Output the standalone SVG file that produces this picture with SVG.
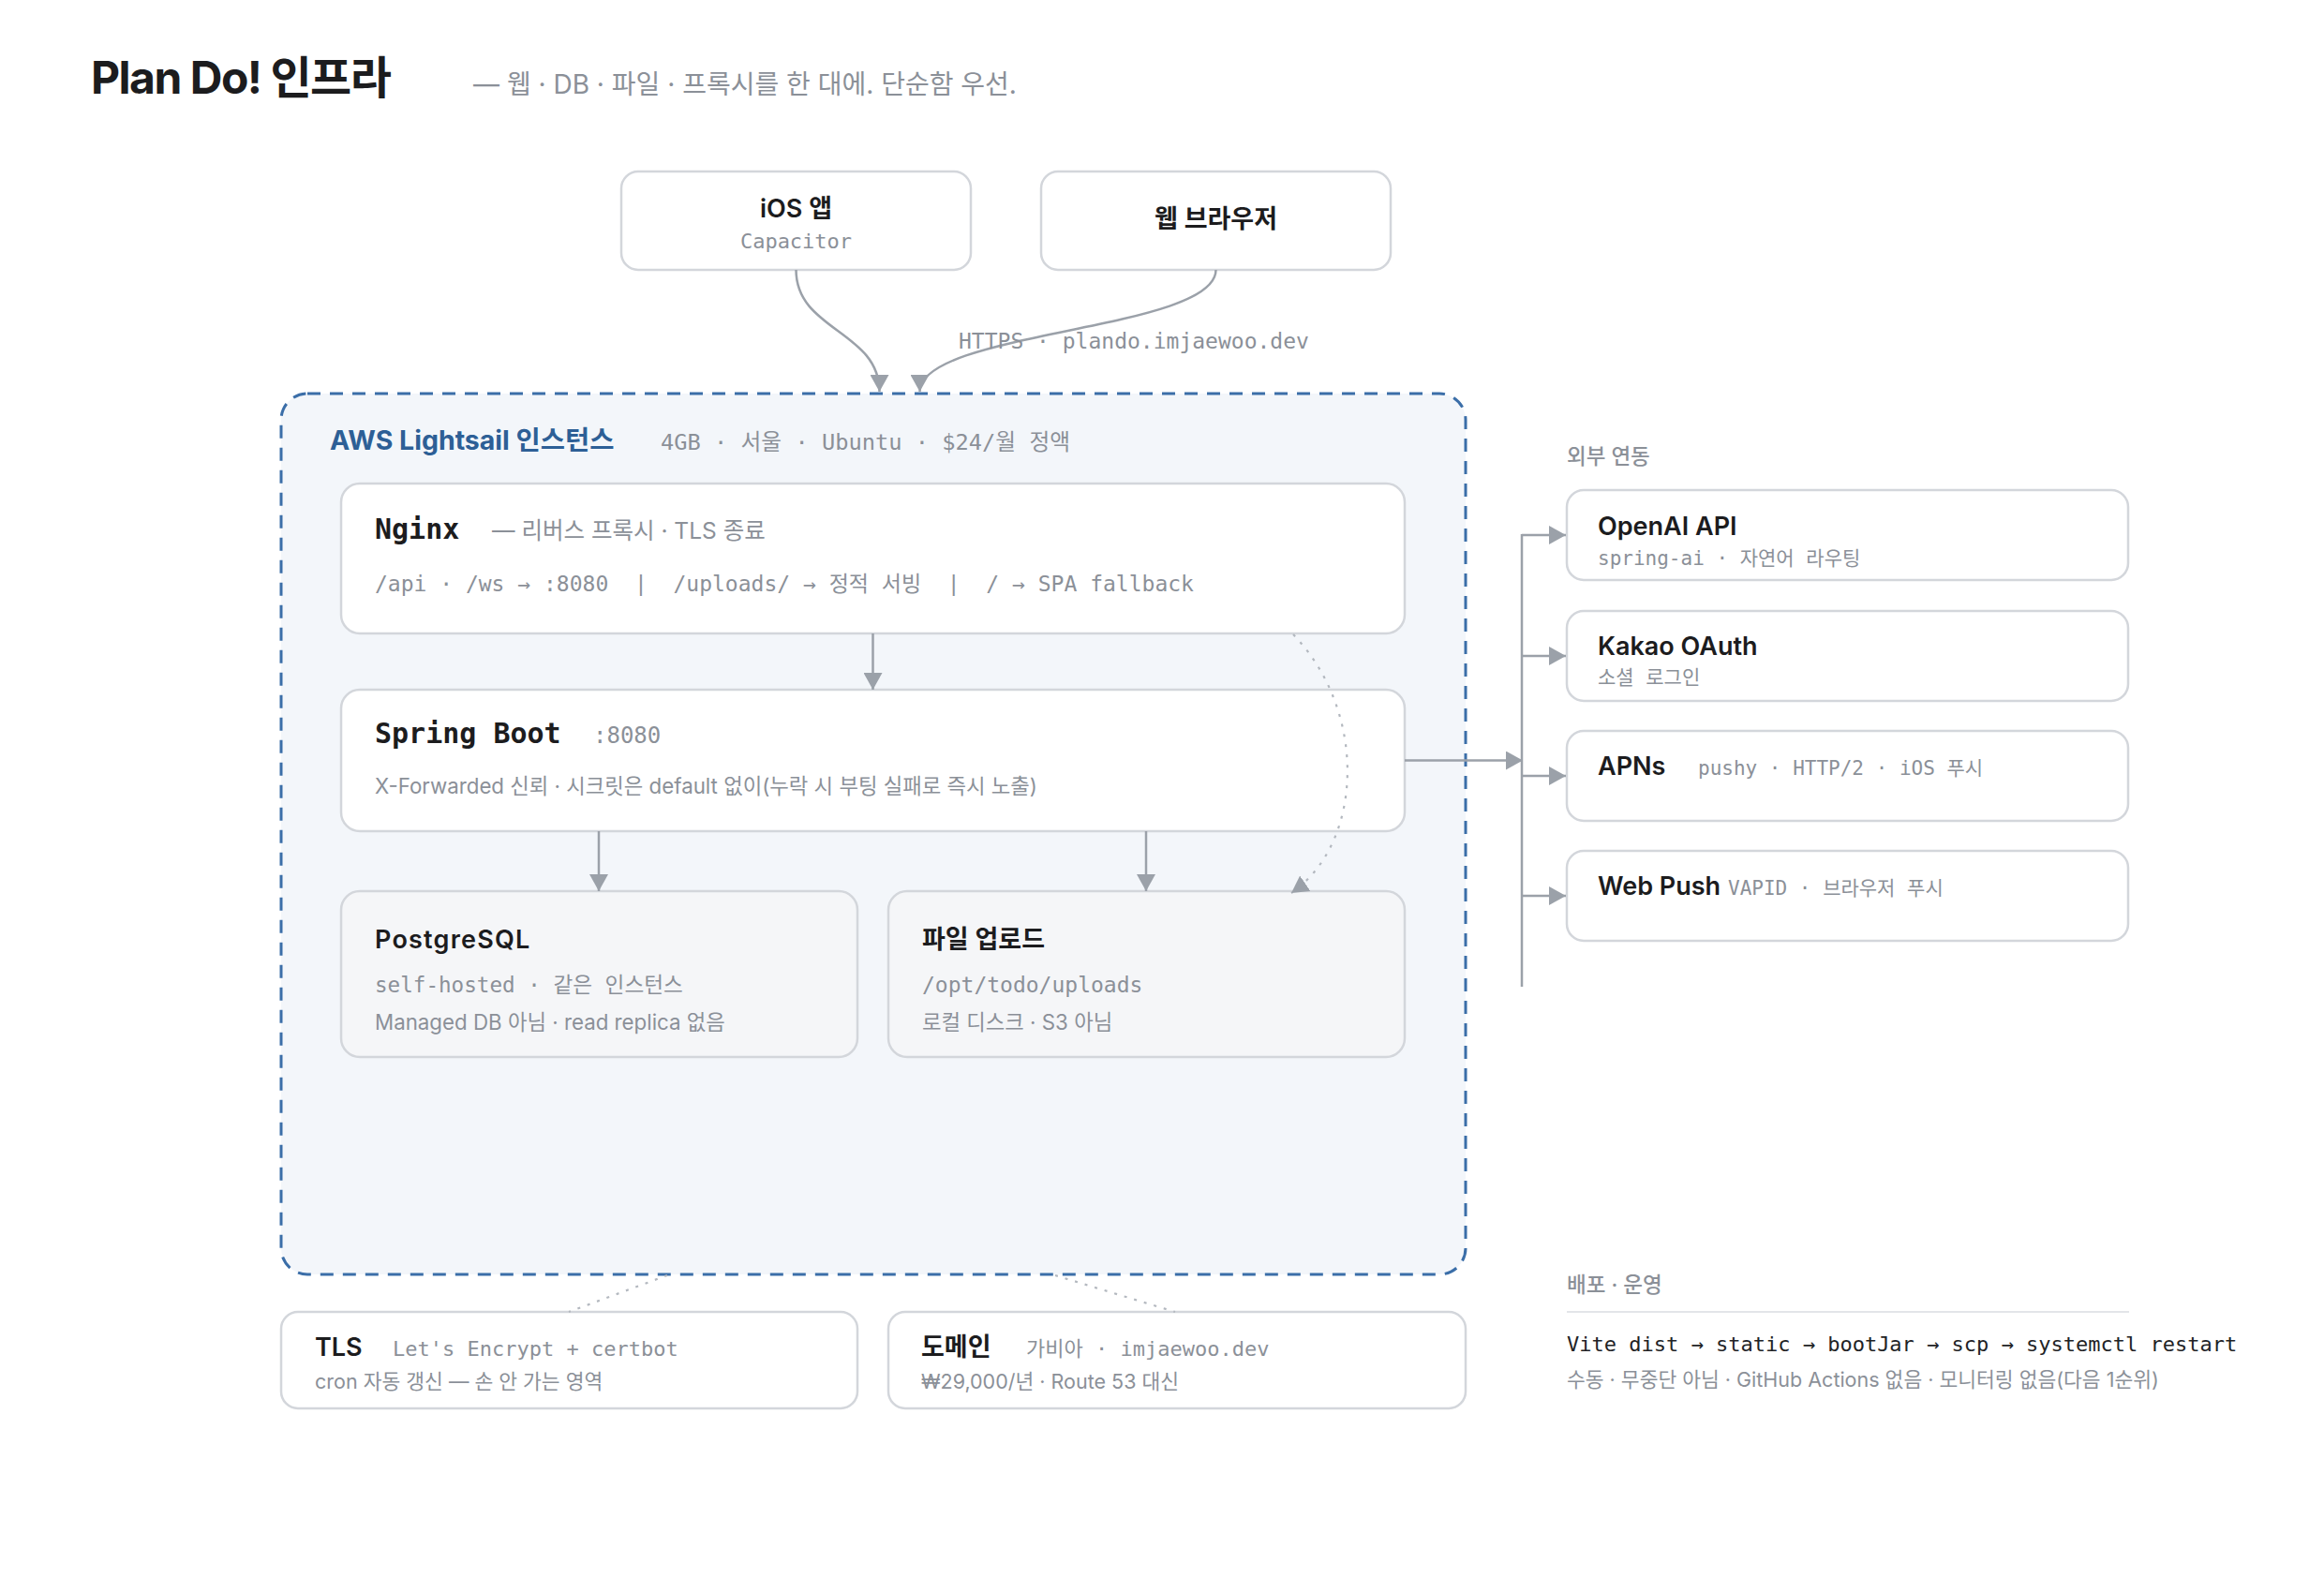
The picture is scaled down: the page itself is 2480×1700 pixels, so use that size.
<svg xmlns="http://www.w3.org/2000/svg" width="2480" height="1700" viewBox="0 0 2480 1700">
<style>
  .sans { font-family: Inter, "Noto Sans CJK KR", sans-serif; }
  .mono { font-family: "DejaVu Sans Mono", "Noto Sans CJK KR", monospace; white-space: pre; }
  .title { font-size: 48px; font-weight: 700; fill: #1c1c1e; letter-spacing: -1.5px; }
  .subtitle { font-size: 28px; fill: #8b9098; }
  .h { font-size: 27px; font-weight: 600; fill: #1c1c1e; }
  .hm { font-size: 30px; font-weight: 700; fill: #1c1c1e; }
  .g { fill: #8b9098; }
  .s22 { font-size: 22.3px; }
  .s21 { font-size: 21.5px; }
  .m23 { font-size: 23px; }
  .m22 { font-size: 22px; }
  .m21 { font-size: 21px; }
  .box { fill: #ffffff; stroke: #d3d6db; stroke-width: 2.5; }
  .box2 { fill: #f5f6f8; stroke: #d3d6db; stroke-width: 2.5; }
  .edge { fill: none; stroke: #9ba1a9; stroke-width: 2.5; }
  .dot { fill: none; stroke: #b3b8bf; stroke-width: 2.2; stroke-dasharray: 3 8; }
  .section { font-size: 22.5px; font-weight: 500; fill: #8b9098; }
</style>
<defs>
  <marker id="arr" viewBox="0 0 18 20" refX="18" refY="10" markerWidth="18" markerHeight="20" markerUnits="userSpaceOnUse" orient="auto">
    <path d="M0,0 L18,10 L0,20 z" fill="#9ba1a9"/>
  </marker>
</defs>
<rect width="2480" height="1700" fill="#ffffff"/>

<g id="header">
  <text class="sans title" x="97" y="100">Plan Do! 인프라</text>
  <text class="sans subtitle" x="505" y="100">— 웹 · DB · 파일 · 프록시를 한 대에. 단순함 우선.</text>
</g>

<g id="aws">
  <rect x="300" y="420" width="1264" height="940" rx="28" fill="#f3f6fa" stroke="#3b6ea8" stroke-width="3" stroke-dasharray="14 10"/>
  <text class="sans" x="352" y="480" font-size="28.5" font-weight="700" fill="#2d5f96">AWS Lightsail 인스턴스</text>
  <text class="mono g" x="705" y="480" font-size="23.7">4GB · 서울 · Ubuntu · $24/월 정액</text>
</g>

<g id="ios">
  <rect class="box" x="663" y="183" width="373" height="105" rx="18"/>
  <text class="sans h" x="849.5" y="232" text-anchor="middle" font-size="28">iOS 앱</text>
  <text class="mono m22 g" x="849.5" y="265" text-anchor="middle">Capacitor</text>
</g>

<g id="web">
  <rect class="box" x="1111" y="183" width="373" height="105" rx="18"/>
  <text class="sans h" x="1297.5" y="243" text-anchor="middle" font-size="28">웹 브라우저</text>
</g>

<g id="nginx">
  <rect class="box" x="364" y="516" width="1135" height="160" rx="20"/>
  <text class="mono hm" x="400" y="575">Nginx</text>
  <text class="sans g" x="525" y="575" font-size="24.5">— 리버스 프록시 · TLS 종료</text>
  <text class="mono m23 g" x="400" y="631">/api · /ws → :8080  |  /uploads/ → 정적 서빙  |  / → SPA fallback</text>
</g>

<g id="spring">
  <rect class="box" x="364" y="736" width="1135" height="151" rx="20"/>
  <text class="mono hm" x="400" y="793">Spring Boot</text>
  <text class="mono g" x="633" y="793" font-size="24">:8080</text>
  <text class="sans s22 g" x="400" y="847">X-Forwarded 신뢰 · 시크릿은 default 없이(누락 시 부팅 실패로 즉시 노출)</text>
</g>

<g id="postgres">
  <rect class="box2" x="364" y="951" width="551" height="177" rx="20"/>
  <text class="sans h" x="400" y="1012" font-size="29" font-weight="700" letter-spacing="1.2">PostgreSQL</text>
  <text class="mono g" x="400" y="1059" font-size="22.6">self-hosted · 같은 인스턴스</text>
  <text class="sans s22 g" x="400" y="1099">Managed DB 아님 · read replica 없음</text>
</g>

<g id="upload">
  <rect class="box2" x="948" y="951" width="551" height="177" rx="20"/>
  <text class="sans h" x="984" y="1012" font-size="29" font-weight="700">파일 업로드</text>
  <text class="mono m23 g" x="984" y="1059">/opt/todo/uploads</text>
  <text class="sans s22 g" x="984" y="1099">로컬 디스크 · S3 아님</text>
</g>

<g id="external-label">
  <text class="sans section" x="1672" y="495">외부 연동</text>
</g>

<g id="openai">
  <rect class="box" x="1672" y="523" width="599" height="96" rx="18"/>
  <text class="sans h" x="1705" y="571">OpenAI API</text>
  <text class="mono m21 g" x="1705" y="603">spring-ai · 자연어 라우팅</text>
</g>

<g id="kakao">
  <rect class="box" x="1672" y="652" width="599" height="96" rx="18"/>
  <text class="sans h" x="1705" y="699">Kakao OAuth</text>
  <text class="mono m21 g" x="1705" y="730">소셜 로그인</text>
</g>

<g id="apns">
  <rect class="box" x="1672" y="780" width="599" height="96" rx="18"/>
  <text class="sans h" x="1705" y="827">APNs</text>
  <text class="mono m21 g" x="1812" y="827">pushy · HTTP/2 · iOS 푸시</text>
</g>

<g id="webpush">
  <rect class="box" x="1672" y="908" width="599" height="96" rx="18"/>
  <text class="sans h" x="1705" y="955">Web Push</text>
  <text class="mono m21 g" x="1844" y="955">VAPID · 브라우저 푸시</text>
</g>

<g id="tls">
  <rect class="box" x="300" y="1400" width="615" height="103" rx="18"/>
  <text class="sans h" x="336" y="1447" font-size="24">TLS</text>
  <text class="mono m22 g" x="419" y="1447">Let's Encrypt + certbot</text>
  <text class="sans s21 g" x="336" y="1482">cron 자동 갱신 — 손 안 가는 영역</text>
</g>

<g id="domain">
  <rect class="box" x="948" y="1400" width="616" height="103" rx="18"/>
  <text class="sans h" x="983" y="1447" font-size="24">도메인</text>
  <text class="mono m22 g" x="1095" y="1447">가비아 · imjaewoo.dev</text>
  <text class="sans s21 g" x="983" y="1482">₩29,000/년 · Route 53 대신</text>
</g>

<g id="deploy">
  <text class="sans section" x="1672" y="1379">배포 · 운영</text>
  <line x1="1672" y1="1400" x2="2272" y2="1400" stroke="#e3e5e9" stroke-width="2"/>
  <text class="mono" x="1672" y="1442" font-size="22" fill="#222326">Vite dist → static → bootJar → scp → systemctl restart</text>
  <text class="sans s21 g" x="1672" y="1480">수동 · 무중단 아님 · GitHub Actions 없음 · 모니터링 없음(다음 1순위)</text>
</g>

<g id="connectors">
  <path class="edge" d="M849.5,288 C849.5,353 938.5,353 938.5,418" marker-end="url(#arr)"/>
  <path class="edge" d="M1297.5,288 C1297.5,353 981.5,353 981.5,418" marker-end="url(#arr)"/>
  <text class="mono m23 g" x="1023" y="372">HTTPS · plando.imjaewoo.dev</text>
  <line class="edge" x1="931.5" y1="676" x2="931.5" y2="736" marker-end="url(#arr)"/>
  <line class="edge" x1="639" y1="887" x2="639" y2="951" marker-end="url(#arr)"/>
  <line class="edge" x1="1223" y1="887" x2="1223" y2="951" marker-end="url(#arr)"/>
  <path class="dot" d="M1380,677 C1460,760 1455,900 1378,953" marker-end="url(#arr)"/>
  <line class="edge" x1="1499" y1="811.5" x2="1625" y2="811.5" marker-end="url(#arr)"/>
  <line class="edge" x1="1624" y1="570" x2="1624" y2="1053"/>
  <line class="edge" x1="1624" y1="571" x2="1671" y2="571" marker-end="url(#arr)"/>
  <line class="edge" x1="1624" y1="700" x2="1671" y2="700" marker-end="url(#arr)"/>
  <line class="edge" x1="1624" y1="828" x2="1671" y2="828" marker-end="url(#arr)"/>
  <line class="edge" x1="1624" y1="956" x2="1671" y2="956" marker-end="url(#arr)"/>
  <path class="dot" d="M712,1361 L607,1400"/>
  <path class="dot" d="M1126,1361 L1254,1400"/>
</g>
</svg>
